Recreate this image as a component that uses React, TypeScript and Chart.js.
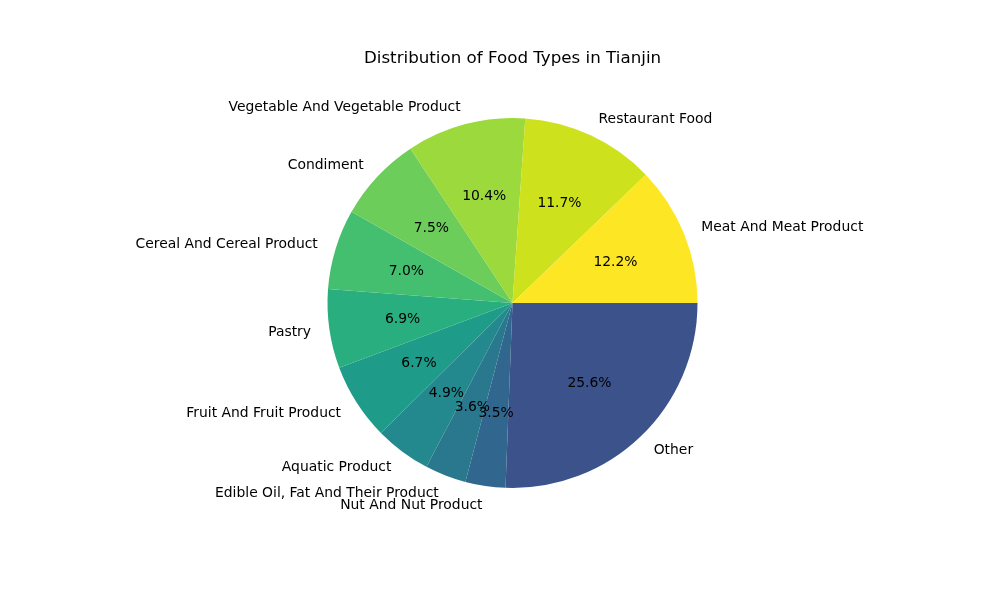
import React, { useEffect, useRef } from "react";
import { Chart, registerables } from "chart.js";

Chart.register(...registerables);

const chartTitle = "Distribution of Food Types in Tianjin";

const categories = [
  "Meat And Meat Product",
  "Restaurant Food",
  "Vegetable And Vegetable Product",
  "Condiment",
  "Cereal And Cereal Product",
  "Pastry",
  "Fruit And Fruit Product",
  "Aquatic Product",
  "Edible Oil, Fat And Their Product",
  "Nut And Nut Product",
  "Other",
];

const shares = [12.2, 11.7, 10.4, 7.5, 7.0, 6.9, 6.7, 4.9, 3.6, 3.5, 25.6];

const sliceColors = [
  "#fde725",
  "#cde11d",
  "#9bd93c",
  "#6ccd5a",
  "#44bf70",
  "#29af7f",
  "#1e9c89",
  "#23898e",
  "#2a788e",
  "#31668e",
  "#3b528b",
];

export default function App() {
  const ref = useRef<HTMLCanvasElement | null>(null);

  useEffect(() => {
    if (!ref.current) return;
    // matplotlib draws counter-clockwise from 3 o'clock; Chart.js draws clockwise,
    // so reverse the order and start at 3 o'clock.
    const labels = [...categories].reverse();
    const values = [...shares].reverse();
    const colors = [...sliceColors].reverse();
    const total = values.reduce((a, b) => a + b, 0);

    const labelPlugin = {
      id: "pieLabels",
      afterDatasetsDraw(chart: any) {
        const ctx = chart.ctx as CanvasRenderingContext2D;
        const meta = chart.getDatasetMeta(0);
        ctx.save();
        ctx.fillStyle = "#000000";
        let cx = 0;
        meta.data.forEach((arc: any, i: number) => {
          const p = arc.getProps(["x", "y", "startAngle", "endAngle", "outerRadius"], true);
          cx = p.x;
          const mid = (p.startAngle + p.endAngle) / 2;
          const c = Math.cos(mid);
          const s = Math.sin(mid);
          const r = p.outerRadius;
          ctx.font = '13.9px "DejaVu Sans"';
          ctx.textBaseline = "alphabetic";
          ctx.textAlign = c > 0 ? "left" : "right";
          ctx.fillText(labels[i], p.x + 1.1 * r * c, p.y + 1.1 * r * s + 4.4);
          ctx.textAlign = "center";
          const pct = ((values[i] / total) * 100).toFixed(1) + "%";
          ctx.fillText(pct, p.x + 0.6 * r * c, p.y + 0.6 * r * s + 4.4);
        });
        ctx.font = '16.7px "DejaVu Sans"';
        ctx.textAlign = "center";
        ctx.textBaseline = "alphabetic";
        ctx.fillText(chartTitle, cx, 63);
        ctx.restore();
      },
    };

    const chart = new Chart(ref.current, {
      type: "pie",
      data: {
        labels,
        datasets: [
          {
            data: values,
            backgroundColor: colors,
            borderWidth: 0,
          },
        ],
      },
      options: {
        responsive: false,
        animation: false,
        devicePixelRatio: 1,
        rotation: 90,
        layout: {
          padding: { left: 327.5, right: 302.5, top: 118, bottom: 112 },
        },
        plugins: {
          legend: { display: false },
          title: { display: false },
          tooltip: { enabled: false },
        },
      },
      plugins: [labelPlugin],
    });
    return () => chart.destroy();
  }, []);

  return (
    <div style={{ position: "fixed", left: 0, top: 0, width: 1000, height: 600, background: "#ffffff" }}>
      <canvas ref={ref} width={1000} height={600} style={{ width: 1000, height: 600 }} />
    </div>
  );
}
